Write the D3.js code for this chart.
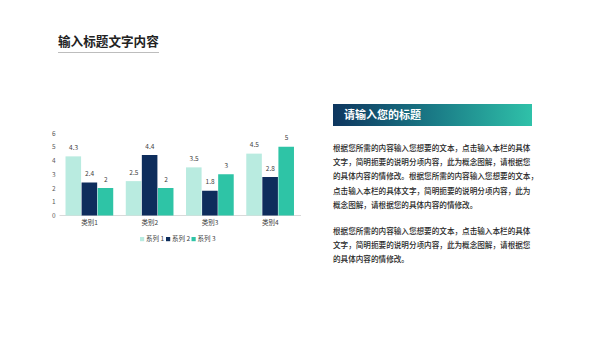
<!DOCTYPE html>
<html><head><meta charset="utf-8">
<script src="https://cdn.jsdelivr.net/npm/d3@7"></script>
<style>body{margin:0;background:#fff;}svg{display:block;font-family:"Noto Sans CJK SC","Noto Sans",sans-serif;}</style>
</head><body>
<svg id="c" width="600" height="338"></svg>
<script>
const categories = ["类别1", "类别2", "类别3", "类别4"];
const seriesNames = ["系列 1", "系列 2", "系列 3"];
const series1 = [4.3, 2.5, 3.5, 4.5];
const series2 = [2.4, 4.4, 1.8, 2.8];
const series3 = [2, 2, 3, 5];
const yTicks = [0, 1, 2, 3, 4, 5, 6];
const colors = ["#b9ebe0", "#0e2d5c", "#2ec4a6"];
const pageTitle = "输入标题文字内容";
const bannerTitle = "请输入您的标题";
const para1 = ["根据您所需的内容输入您想要的文本，点击输入本栏的具体",
  "文字，简明扼要的说明分项内容，此为概念图解，请根据您",
  "的具体内容的情修改。根据您所需的内容输入您想要的文本，",
  "点击输入本栏的具体文字，简明扼要的说明分项内容，此为",
  "概念图解，请根据您的具体内容的情修改。"];
const para2 = ["根据您所需的内容输入您想要的文本，点击输入本栏的具体",
  "文字，简明扼要的说明分项内容，此为概念图解，请根据您",
  "的具体内容的情修改。"];

const allSeries = [series1, series2, series3];
const svg = d3.select("#c");

// Page title
svg.append("text").attr("x", 58).attr("y", 46).attr("font-size", 12.6).attr("font-weight", 700)
  .attr("fill", "#222").text(pageTitle);
svg.append("line").attr("x1", 58).attr("x2", 159).attr("y1", 52.5).attr("y2", 52.5)
  .attr("stroke", "#bdbdbd").attr("stroke-width", 1);

// Chart
const x0 = d3.scaleBand().domain(categories).range([59.5, 300.5]).paddingInner(0.2).paddingOuter(0.1);
const x1 = d3.scaleBand().domain(d3.range(3)).range([0, x0.bandwidth()]).padding(0);
const y = d3.scaleLinear().domain([0, 6]).range([215.5, 133]);

const g = svg.append("g");
g.append("line").attr("x1", 59.5).attr("x2", 301).attr("y1", y(0)).attr("y2", y(0))
  .attr("stroke", "#d9d9d9").attr("stroke-width", 1);

const yAxis = d3.axisLeft(y).tickValues(yTicks).tickSize(0).tickPadding(0).tickFormat(d3.format("d"));
const ya = g.append("g").attr("transform", "translate(55.5,0)").call(yAxis);
ya.select(".domain").remove();
ya.selectAll("text").attr("font-size", 6.5).attr("fill", "#595959").attr("font-family", "Noto Sans CJK SC");

const xAxis = d3.axisBottom(x0).tickSize(0).tickPadding(0);
const xa = g.append("g").attr("transform", `translate(0,${y(0) + 5})`).call(xAxis);
xa.select(".domain").remove();
xa.selectAll("text").attr("font-size", 6.5).attr("fill", "#404040").attr("font-family", "Noto Sans CJK SC");

categories.forEach((c, ci) => {
  allSeries.forEach((s, si) => {
    const v = s[ci];
    const bx = x0(c) + x1(si);
    g.append("rect").attr("x", bx).attr("y", y(v)).attr("width", x1.bandwidth() - 0.5)
      .attr("height", y(0) - y(v)).attr("fill", colors[si]);
    g.append("text").attr("x", bx + x1.bandwidth() / 2).attr("y", y(v) - 6.5)
      .attr("text-anchor", "middle").attr("font-size", 6.5).attr("fill", "#404040").text(v);
  });
});

// Legend
const legX = [140, 166, 191.5];
seriesNames.forEach((n, i) => {
  const lg = svg.append("g").attr("transform", `translate(${legX[i]},239)`);
  lg.append("rect").attr("x", 0).attr("y", -2).attr("width", 4.2).attr("height", 4.2).attr("fill", colors[i]);
  lg.append("text").attr("x", 6).attr("y", 2.3).attr("font-size", 6.5).attr("fill", "#404040").text(n);
});

// Banner
const grad = svg.append("defs").append("linearGradient").attr("id", "bg").attr("x1", "0").attr("x2", "1");
grad.append("stop").attr("offset", "0").attr("stop-color", "#0e365f");
grad.append("stop").attr("offset", "0.5").attr("stop-color", "#1a7a86");
grad.append("stop").attr("offset", "1").attr("stop-color", "#2fc1a9");
svg.append("rect").attr("x", 333).attr("y", 104).attr("width", 199).attr("height", 22).attr("fill", "url(#bg)");
svg.append("text").attr("x", 344).attr("y", 119).attr("font-size", 11).attr("font-weight", 700)
  .attr("fill", "#fff").text(bannerTitle);

// Paragraphs
const lh = 14.2;
para1.forEach((t, i) => {
  svg.append("text").attr("x", 333).attr("y", 151 + i * lh).attr("font-size", 7.6)
    .attr("font-weight", 500).attr("fill", "#262626").text(t);
});
para2.forEach((t, i) => {
  svg.append("text").attr("x", 333).attr("y", 234 + i * lh).attr("font-size", 7.6)
    .attr("font-weight", 500).attr("fill", "#262626").text(t);
});
</script>
</body></html>
